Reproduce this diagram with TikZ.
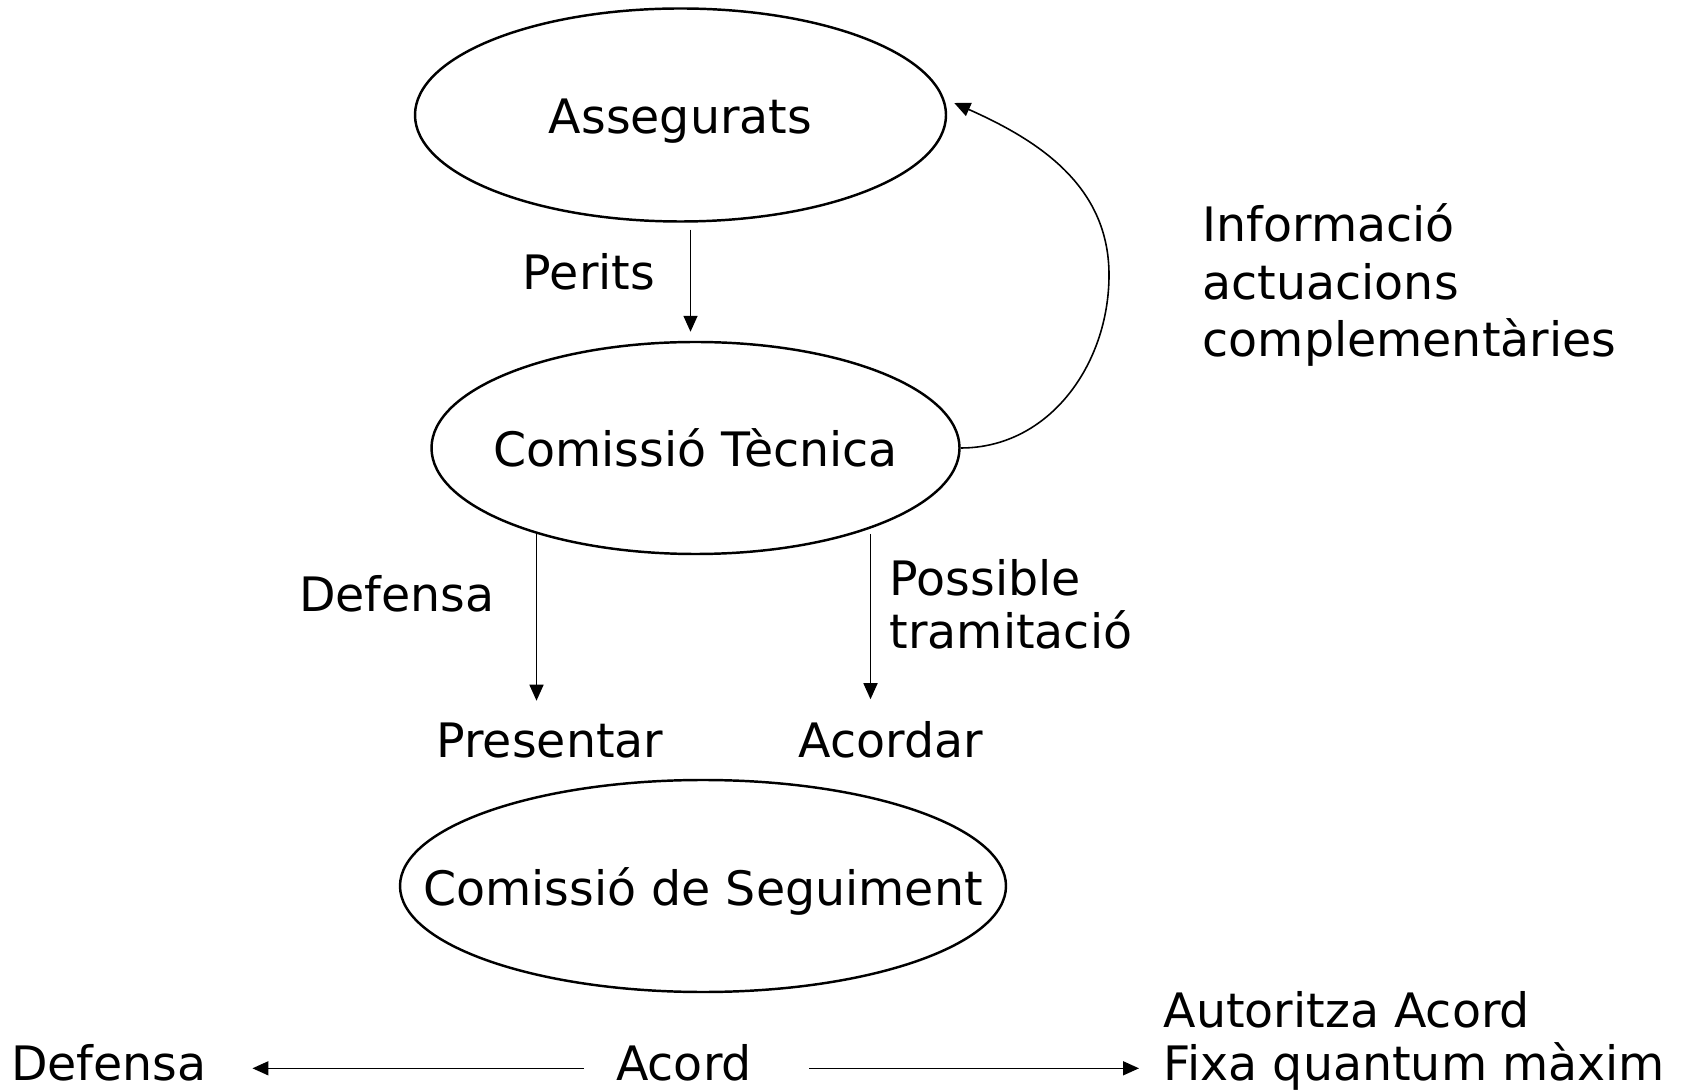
\documentclass[tikz,border=0pt]{standalone}
\usepackage{fontspec}
\setmainfont{DejaVu Sans}
\usetikzlibrary{shapes.geometric,arrows.meta,calc}

\tikzset{
  organ/.style={draw, ellipse, line width=0.7pt, inner sep=0pt},
  lbl/.style={anchor=base, inner sep=0pt},
  blk/.style={anchor=west, align=left, inner sep=0pt},
  arr/.style={->, line width=0.45pt}
}

\begin{document}
\begin{tikzpicture}[font=\fontsize{13.5}{15}\selectfont, >={Triangle[length=1.6mm,width=1.4mm]}]
        \useasboundingbox (0,0) rectangle (16.92,10.91);

        % organs
        \node[organ, minimum width=5.31cm, minimum height=2.13cm, label={[yshift=-0.6mm]center:Assegurats}] (ass) at (6.805,9.76) {};
        \node[organ, minimum width=5.28cm, minimum height=2.12cm, label={center:Comissió Tècnica}] (ct) at (6.955,6.43) {};
        \node[organ, minimum width=6.06cm, minimum height=2.12cm, label={[yshift=-0.5mm]center:Comissió de Seguiment}] (cs) at (7.03,2.05) {};

        % perits
        \node[lbl] (per) at (5.89,8.01) {Perits};
        \coordinate (pa) at ($(ass.south)+(0.1,0)$);
        \draw[arr, shorten <=0.7mm, shorten >=0.9mm] (pa) -- (pa |- ct.north);

        % informacio
        \coordinate (bend) at (11.09,8.16);
        \coordinate (tip) at ($(ass.east)+(0.07,0.12)$);
        \draw[arr] (ct.east) to[out=0,in=-90] (bend) to[out=90,in=-24] (tip);
        \node[blk, font=\fontsize{13.5}{16.3}\selectfont] (info) at (12.02,8.06) {Informació\\actuacions\\complementàries};

        % defensa / tramitacio
        \node[lbl] (defm) at (3.97,4.79) {Defensa};
        \node[blk] (pos) at (8.89,4.87) {Possible\\tramitació};
        \node[lbl] (pres) at (5.50,3.33) {Presentar};
        \node[lbl] (acor) at (8.91,3.33) {Acordar};
        \coordinate (dl) at ($(ct.center)+(-1.59,-0.84)$);
        \coordinate (dr) at ($(ct.center)+(1.75,-0.86)$);
        \draw[arr, shorten >=2.2mm] (dl) -- (dl |- pres.north);
        \draw[arr, shorten >=2.2mm] (dr) -- (dr |- acor.north);

        % acord
        \node[lbl] (defb) at (1.09,0.11) {Defensa};
        \node[lbl] (acord) at (6.84,0.11) {Acord};
        \node[blk] (auto) at (11.63,0.50) {Autoritza Acord\\Fixa quantum màxim};
        \draw[arr, shorten <=3.2mm, shorten >=4.5mm] ([yshift=-0.6mm]acord.west) -- ([yshift=-0.6mm]acord.west -| defb.east);
        \draw[arr, shorten <=5.7mm, shorten >=2.4mm] ([yshift=-0.6mm]acord.east) -- ([yshift=-0.6mm]acord.east -| auto.west);

\end{tikzpicture}
\end{document}
